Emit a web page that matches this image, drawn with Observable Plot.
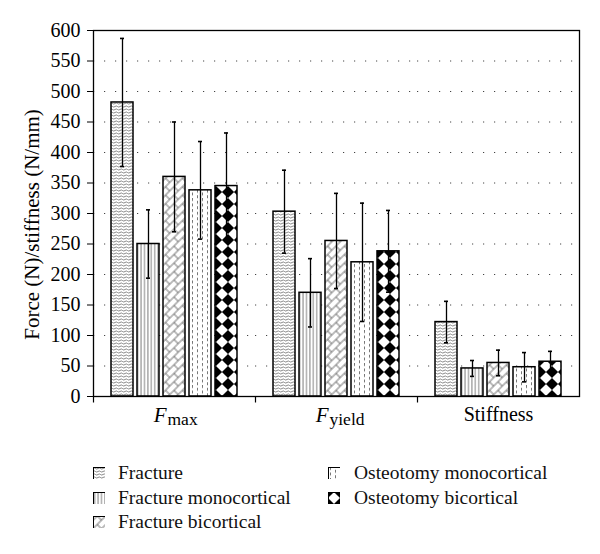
<!DOCTYPE html>
<html><head><meta charset="utf-8">
<script src="https://cdn.jsdelivr.net/npm/d3@7"></script>
<script src="https://cdn.jsdelivr.net/npm/@observablehq/plot@0.6"></script>
<style>
body{margin:0;background:#fff;font-family:"Liberation Serif","Times New Roman",serif;}
#wrap{position:relative;width:600px;height:554px;background:#fff;}
#wrap > svg{position:absolute;left:0;top:0;}
.legtxt{position:absolute;height:20px;line-height:20px;font-size:19.5px;white-space:nowrap;color:#111;}
.sw{position:absolute;width:12px;height:12px;}
</style></head><body>
<svg width="0" height="0" style="position:absolute">
<defs>
 <pattern id="pFr" patternUnits="userSpaceOnUse" width="5" height="3">
  <rect width="5" height="3" fill="#fff"/>
  <path d="M0,1.5 Q1.25,0.4 2.5,1.5 T5,1.5" fill="none" stroke="#555" stroke-width="0.7"/>
 </pattern>
 <pattern id="pFm" patternUnits="userSpaceOnUse" width="3.4" height="10">
  <rect width="3.4" height="10" fill="#fff"/>
  <line x1="1.7" y1="0" x2="1.7" y2="10" stroke="#555" stroke-width="0.8"/>
 </pattern>
 <pattern id="pFb" patternUnits="userSpaceOnUse" width="12" height="12" patternTransform="rotate(-45)">
  <rect width="12" height="12" fill="#fff"/>
  <path d="M0,3H12M0,9H12M3,3V9M9,9V12M9,0V3" stroke="#555" stroke-width="0.8" fill="none"/>
 </pattern>
 <pattern id="pOm" patternUnits="userSpaceOnUse" width="10" height="5.5">
  <rect width="10" height="5.5" fill="#fff"/>
  <path d="M2.5,0V3M7.5,2.75V5.5M7.5,0V0.25" stroke="#777" stroke-width="1"/>
 </pattern>
 <pattern id="pOb" patternUnits="userSpaceOnUse" width="12" height="12">
  <rect width="12" height="12" fill="#000"/>
  <path d="M6,0.9L11.1,6L6,11.1L0.9,6Z" fill="#fff" stroke="#fff" stroke-width="1.2" stroke-linejoin="round"/>
 </pattern>
</defs></svg>
<div id="wrap"></div>
<script>
// ---- data ----
const categories = ["Fmax", "Fyield", "Stiffness"];
const catMain = ["F", "F", "Stiffness"];
const catSub = ["max", "yield", ""];
const series = ["Fracture", "Fracture monocortical", "Fracture bicortical", "Osteotomy monocortical", "Osteotomy bicortical"];
const patterns = ["url(#pFr)", "url(#pFm)", "url(#pFb)", "url(#pOm)", "url(#pOb)"];

const fracture      = [482, 303, 122];
const fractureMono  = [250, 170, 46];
const fractureBi    = [360, 255, 55];
const osteoMono     = [338, 220, 48];
const osteoBi       = [345, 238, 57];

const fractureErr     = [105, 68, 34];
const fractureMonoErr = [56, 56, 13];
const fractureBiErr   = [90, 78, 21];
const osteoMonoErr    = [80, 97, 24];
const osteoBiErr      = [87, 67, 17];

const yTicks = [0, 50, 100, 150, 200, 250, 300, 350, 400, 450, 500, 550, 600];
const yLabel = "Force (N)/stiffness (N/mm)";

// ---- build table ----
const means = [fracture, fractureMono, fractureBi, osteoMono, osteoBi];
const errs = [fractureErr, fractureMonoErr, fractureBiErr, osteoMonoErr, osteoBiErr];
const rows = [];
series.forEach((s, i) => categories.forEach((c, j) => rows.push({
  cat: c, series: s, pat: patterns[i], v: means[i][j],
  lo: means[i][j] - errs[i][j], hi: means[i][j] + errs[i][j]
})));
const labels = categories.map((c, j) => ({cat: c, main: catMain[j], sub: catSub[j]}));

const tickSym = {draw(ctx) { ctx.moveTo(0, 0); ctx.lineTo(0, 6); }};
const font = '"Liberation Serif","Times New Roman",serif';

const chart = Plot.plot({
  width: 600, height: 440,
  marginLeft: 93, marginRight: 21, marginTop: 30, marginBottom: 44,
  style: {fontFamily: font, fontSize: "20px", background: "#fff", color: "#000", overflow: "visible"},
  fx: {domain: categories, padding: 0, axis: null, label: null},
  x: {domain: series, paddingInner: 0.157, paddingOuter: 0.61, axis: null},
  y: {domain: [0, 600], ticks: yTicks, tickSize: 6, tickPadding: 7, label: null},
  color: {type: "identity"},
  marks: [
    Plot.gridY(yTicks.filter(t => t > 0 && t < 600), {stroke: "#444", strokeOpacity: 1, strokeWidth: 1, strokeDasharray: "1.2,9.8"}),
    Plot.barY(rows, {fx: "cat", x: "series", y: "v", fill: "pat", stroke: "#000", strokeWidth: 1.5}),
    Plot.ruleX(rows, {fx: "cat", x: "series", y1: "lo", y2: "hi", stroke: "#000", strokeWidth: 1.3}),
    Plot.tickY(rows, {fx: "cat", x: "series", y: "hi", stroke: "#000", strokeWidth: 1.6, insetLeft: 9, insetRight: 9}),
    Plot.tickY(rows, {fx: "cat", x: "series", y: "lo", stroke: "#000", strokeWidth: 1.6, insetLeft: 9, insetRight: 9}),
    Plot.frame({facet: "super", stroke: "#000", strokeWidth: 1.3}),
    Plot.dot([0], {frameAnchor: "bottom-left", symbol: tickSym, stroke: "#000", strokeWidth: 1.2, fill: "none"}),
    Plot.text(labels, {filter: d => d.sub, fx: "cat", frameAnchor: "bottom", text: "main", dy: 25.3, dx: -8, textAnchor: "end", fontStyle: "italic", fontSize: 21}),
    Plot.text(labels, {filter: d => d.sub, fx: "cat", frameAnchor: "bottom", text: "sub", dy: 28.5, dx: -7, textAnchor: "start", fontSize: 17.5}),
    Plot.text(labels, {filter: d => !d.sub, fx: "cat", frameAnchor: "bottom", text: "main", dy: 24.6, fontSize: 20}),
    Plot.text([yLabel], {facet: "super", frameAnchor: "left", textAnchor: "middle", rotate: -90, dx: -61.5, dy: 11, fontSize: 21})
  ]
});

const wrap = document.getElementById("wrap");
wrap.appendChild(chart);

// ---- legend below the chart ----
series.forEach((s, i) => {
  const col = i < 3 ? 0 : 1;
  const row = i < 3 ? i : i - 3;
  const swX = col ? 328 : 93;
  const txX = col ? 354 : 118;
  const top = 480 + row * 24.5 - 16.6;
  const sw = document.createElementNS("http://www.w3.org/2000/svg", "svg");
  sw.setAttribute("class", "sw");
  sw.setAttribute("width", 13); sw.setAttribute("height", 13);
  sw.style.left = swX + "px"; sw.style.top = (top + 4) + "px";
  const r = document.createElementNS("http://www.w3.org/2000/svg", "rect");
  r.setAttribute("x", 0.5); r.setAttribute("y", 0.5); r.setAttribute("width", 12); r.setAttribute("height", 12);
  r.setAttribute("fill", patterns[i]); r.setAttribute("stroke", "#000"); r.setAttribute("stroke-width", 1);
  sw.appendChild(r);
  wrap.appendChild(sw);
  const t = document.createElement("div");
  t.className = "legtxt";
  t.style.left = txX + "px"; t.style.top = top + "px";
  t.textContent = s;
  wrap.appendChild(t);
});
</script>
</body></html>
